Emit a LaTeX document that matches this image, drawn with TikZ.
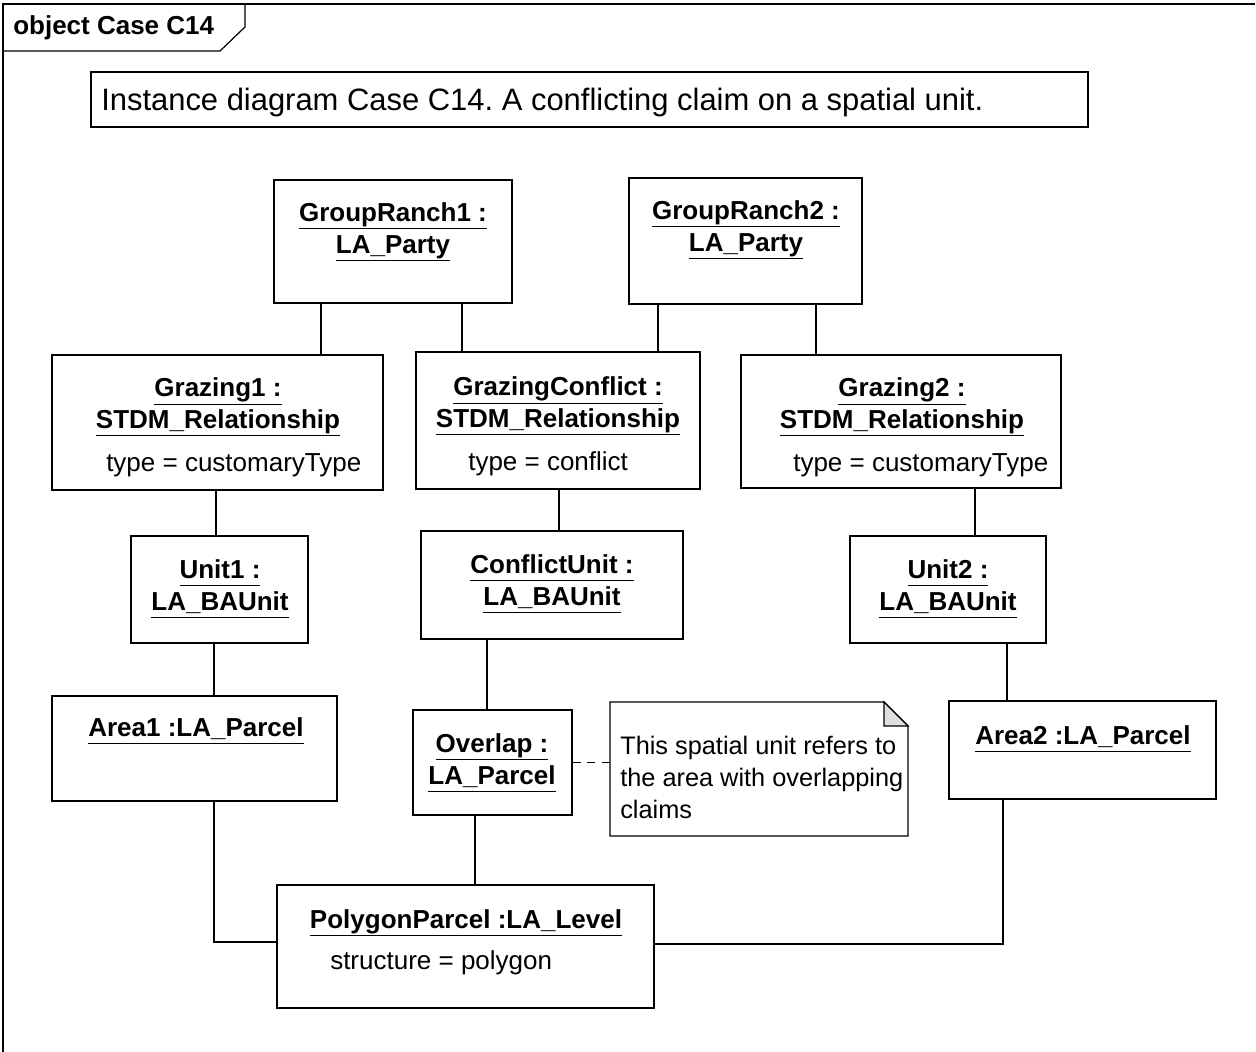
\documentclass[tikz,border=0pt]{standalone}
\usepackage{fontspec}
\setmainfont{Liberation Sans}
\usetikzlibrary{calc,positioning,fit}

\newcommand\umlfont{\fontsize{19.5}{24}\selectfont}
\newcommand\ulin[1]{\underline{#1\vphantom{py}}}

\tikzset{
  objbox/.style={draw,line width=0.9pt,inner sep=0pt,fill=none},
  objname/.style={font=\umlfont\bfseries,align=center,inner sep=0pt},
  attr/.style={font=\umlfont,anchor=base west,inner sep=0pt},
  link/.style={line width=0.8pt}
}

\begin{document}
\begin{tikzpicture}[x=0.75pt,y=-0.75pt]
\useasboundingbox (0,0) rectangle (1256,1052);

% frame
\draw[line width=0.9pt] (1255,4) -- (3,4) -- (3,1052);
\draw[line width=0.9pt] (3,51) -- (220,51) -- (245,27) -- (245,4);
\node[font=\umlfont\bfseries,anchor=base west,inner sep=0pt] (frametitle) at (13,35) {object Case C14};

% caption
\node[objbox,fit={(91,72) (1088,127)}] (caption) {};
\node[attr,font=\fontsize{23.2}{28}\selectfont] (captiontext) at (101,111) {Instance diagram Case C14.\ A conflicting claim on a spatial unit.};

% parties
\node[objbox,fit={(274,180) (512,303)}] (gr1) {};
\node[objname] (gr1t) at (393,232) {\ulin{GroupRanch1 :}\\\ulin{LA\_Party}};
\node[objbox,fit={(629,178) (862,304)}] (gr2) {};
\node[objname] (gr2t) at (746,230) {\ulin{GroupRanch2 :}\\\ulin{LA\_Party}};

% relationships
\node[objbox,fit={(52,355) (383,490)}] (gz1) {};
\node[objname] (gz1t) at (218,407) {\ulin{Grazing1 :}\\\ulin{STDM\_Relationship}};
\node[attr] (gz1a) at (106,471) {type = customaryType};
\node[objbox,fit={(416,352) (700,489)}] (gzc) {};
\node[objname] (gzct) at (558,406) {\ulin{GrazingConflict :}\\\ulin{STDM\_Relationship}};
\node[attr] (gzca) at (468,470) {type = conflict};
\node[objbox,fit={(741,355) (1061,488)}] (gz2) {};
\node[objname] (gz2t) at (902,407) {\ulin{Grazing2 :}\\\ulin{STDM\_Relationship}};
\node[attr] (gz2a) at (793,471) {type = customaryType};

% units
\node[objbox,fit={(131,536) (308,643)}] (u1) {};
\node[objname] (u1t) at (220,589) {\ulin{Unit1 :}\\\ulin{LA\_BAUnit}};
\node[objbox,fit={(421,531) (683,639)}] (cu) {};
\node[objname] (cut) at (552,584) {\ulin{ConflictUnit :}\\\ulin{LA\_BAUnit}};
\node[objbox,fit={(850,536) (1046,643)}] (u2) {};
\node[objname] (u2t) at (948,589) {\ulin{Unit2 :}\\\ulin{LA\_BAUnit}};

% parcels
\node[objbox,fit={(52,696) (337,801)}] (a1) {};
\node[objname] (a1t) at (196,731) {\ulin{Area1 :LA\_Parcel}};
\node[objbox,fit={(413,710) (572,815)}] (ov) {};
\node[objname] (ovt) at (492,763) {\ulin{Overlap :}\\\ulin{LA\_Parcel}};
\node[objbox,fit={(949,701) (1216,799)}] (a2) {};
\node[objname] (a2t) at (1083,739) {\ulin{Area2 :LA\_Parcel}};

% level
\node[objbox,fit={(277,885) (654,1008)}] (pp) {};
\node[objname] (ppt) at (466,923) {\ulin{PolygonParcel :LA\_Level}};
\node[attr] (ppa) at (330,969) {structure = polygon};

% note
\node[inner sep=0pt,fit={(610,702) (908,836)}] (note) {};
\draw[line width=0.9pt] (610,702) -- (884,702) -- (908,726) -- (908,836) -- (610,836) -- cycle;
\draw[line width=0.9pt,fill=gray!25] (884,702) -- (884,726) -- (908,726) -- cycle;
\node[font=\fontsize{19}{24}\selectfont,align=left,anchor=north west,inner sep=0pt] (notetext) at (620,736)
  {This spatial unit refers to\\the area with overlapping\\claims};

% links
\draw[link] (321,0 |- gr1.south) -- (321,0 |- gz1.north);
\draw[link] (462,0 |- gr1.south) -- (462,0 |- gzc.north);
\draw[link] (658,0 |- gr2.south) -- (658,0 |- gzc.north);
\draw[link] (816,0 |- gr2.south) -- (816,0 |- gz2.north);
\draw[link] (216,0 |- gz1.south) -- (216,0 |- u1.north);
\draw[link] (559,0 |- gzc.south) -- (559,0 |- cu.north);
\draw[link] (975,0 |- gz2.south) -- (975,0 |- u2.north);
\draw[link] (214,0 |- u1.south) -- (214,0 |- a1.north);
\draw[link] (487,0 |- cu.south) -- (487,0 |- ov.north);
\draw[link] (1007,0 |- u2.south) -- (1007,0 |- a2.north);
\draw[link] (214,0 |- a1.south) |- (pp.west |- 0,942);
\draw[link] (475,0 |- ov.south) -- (475,0 |- pp.north);
\draw[link] (1003,0 |- a2.south) |- (pp.east |- 0,944);
\draw[link,dash pattern=on 6pt off 5pt] (ov.east) -- (ov.east -| note.west);

\end{tikzpicture}
\end{document}
